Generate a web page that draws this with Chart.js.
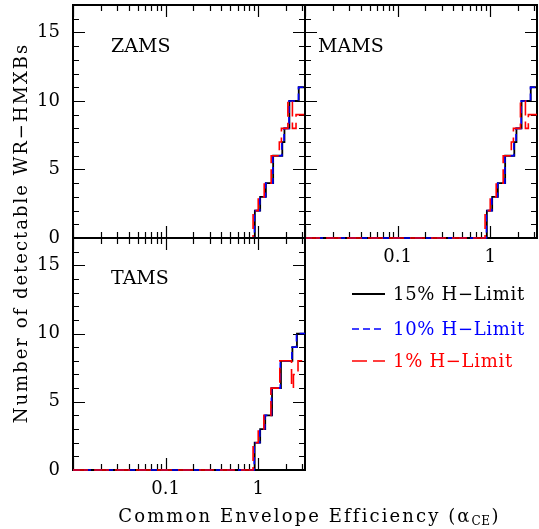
<!DOCTYPE html>
<html>
<head>
<meta charset="utf-8">
<script src="https://cdn.jsdelivr.net/npm/chart.js@4.4.0/dist/chart.umd.min.js"></script>
<style>
html, body { margin: 0; padding: 0; background: #fff; }
#wrap { position: relative; width: 539px; height: 529px; }
#wrap canvas { position: absolute; left: 0; top: 0; }
</style>
</head>
<body>
<div id="wrap">
  <canvas id="zams" width="539" height="529"></canvas>
  <canvas id="mams" width="539" height="529"></canvas>
  <canvas id="tams" width="539" height="529"></canvas>
</div>
<script>
// alpha_CE where each count starts; the count holds until the next alpha
var zamsAlpha15 = [0.01, 0.92, 1.05, 1.21, 1.45, 1.82, 1.92, 2.17, 2.74, 3.2];
var zamsCount15 = [0, 2, 3, 4, 6, 7, 8, 10, 11, 11];
var zamsAlpha10 = [0.01, 0.91, 1.04, 1.20, 1.44, 1.80, 1.90, 2.15, 2.72, 3.2];
var zamsCount10 = [0, 2, 3, 4, 6, 7, 8, 10, 11, 11];
var zamsAlpha1 = [0.01, 0.88, 1.00, 1.16, 1.38, 1.69, 1.78, 2.09, 2.34, 2.56, 3.2];
var zamsCount1 = [0, 2, 3, 4, 6, 7, 8, 10, 8, 9, 9];

var mamsAlpha15 = [0.01, 0.92, 1.05, 1.21, 1.45, 1.82, 1.92, 2.18, 2.74, 3.2];
var mamsCount15 = [0, 2, 3, 4, 6, 7, 8, 10, 11, 11];
var mamsAlpha10 = [0.01, 0.91, 1.04, 1.20, 1.44, 1.80, 1.90, 2.16, 2.72, 3.2];
var mamsCount10 = [0, 2, 3, 4, 6, 7, 8, 10, 11, 11];
var mamsAlpha1 = [0.01, 0.88, 1.00, 1.16, 1.38, 1.69, 1.78, 2.12, 2.40, 2.58, 3.2];
var mamsCount1 = [0, 2, 3, 4, 6, 7, 8, 10, 8, 9, 9];

var tamsAlpha15 = [0.01, 0.916, 1.05, 1.19, 1.41, 1.76, 2.34, 2.62, 3.2];
var tamsCount15 = [0, 2, 3, 4, 6, 8, 9, 10, 10];
var tamsAlpha10 = [0.01, 0.905, 1.04, 1.18, 1.39, 1.73, 2.31, 2.59, 3.2];
var tamsCount10 = [0, 2, 3, 4, 6, 8, 9, 10, 10];
var tamsAlpha1 = [0.01, 0.88, 1.00, 1.15, 1.37, 1.71, 2.29, 2.40, 2.69, 3.2];
var tamsCount1 = [0, 2, 3, 4, 6, 8, 6, 7, 8, 8];

var seriesLabels = ['15% H\u2212Limit', '10% H\u2212Limit', '1% H\u2212Limit'];
var xTickLabels = [0.1, 1];
var yTickLabels = [0, 5, 10, 15];
var xMajorTicks = [0.01, 0.1, 1];
var xTicks = [0.01, 0.02, 0.03, 0.04, 0.05, 0.06, 0.07, 0.08, 0.09,
              0.1, 0.2, 0.3, 0.4, 0.5, 0.6, 0.7, 0.8, 0.9, 1, 2, 3];
var yMajorTicks = [0, 5, 10, 15];
var yTicks = [0, 1, 2, 3, 4, 5, 6, 7, 8, 9, 10, 11, 12, 13, 14, 15, 16, 17];

var FONT = 'DejaVu Serif';
var YAXIS_W = 50, XAXIS_H = 40;

function points(xs, ys) {
  return xs.map(function(x, i) { return { x: x, y: ys[i] }; });
}

function makeSets(a15, c15, a10, c10, a1, c1) {
  return [
    { label: seriesLabels[0], data: points(a15, c15), borderColor: '#000000', borderWidth: 1.8, order: 3 },
    { label: seriesLabels[1], data: points(a10, c10), borderColor: '#0000ff', borderWidth: 1.6, borderDash: [7, 4], order: 2 },
    { label: seriesLabels[2], data: points(a1, c1), borderColor: '#ff0000', borderWidth: 1.6, borderDash: [15, 6], order: 1 }
  ];
}

function noPad(s) {
  s.paddingTop = 0; s.paddingBottom = 0; s.paddingLeft = 0; s.paddingRight = 0;
}

// box frame with inward ticks on all four sides
var framePlugin = {
  id: 'frame',
  beforeDatasetsDraw: function(chart) {
    var ctx = chart.ctx, a = chart.chartArea, xs = chart.scales.x, ys = chart.scales.y;
    ctx.save();
    ctx.strokeStyle = '#000';
    ctx.lineWidth = 1.2;
    ctx.beginPath();
    xTicks.forEach(function(v) {
      var len = xMajorTicks.indexOf(v) >= 0 ? 12 : 6;
      var px = Math.round(xs.getPixelForValue(v)) + 0.5;
      ctx.moveTo(px, a.bottom); ctx.lineTo(px, a.bottom - len);
      ctx.moveTo(px, a.top); ctx.lineTo(px, a.top + len);
    });
    yTicks.forEach(function(v) {
      var len = yMajorTicks.indexOf(v) >= 0 ? 12 : 6;
      var py = Math.round(ys.getPixelForValue(v)) + 0.5;
      ctx.moveTo(a.left, py); ctx.lineTo(a.left + len, py);
      ctx.moveTo(a.right, py); ctx.lineTo(a.right - len, py);
    });
    ctx.stroke();
    ctx.lineWidth = 2;
    ctx.strokeRect(a.left, a.top, a.right - a.left, a.bottom - a.top);
    ctx.restore();
  },
  afterDraw: function(chart) {
    var o = chart.options.plugins.frame;
    var ctx = chart.ctx, a = chart.chartArea;
    ctx.save();
    ctx.fillStyle = '#000';
    ctx.font = '19px "' + FONT + '"';
    ctx.textBaseline = 'middle';
    ctx.textAlign = 'left';
    ctx.fillText(o.name, a.left + o.dx, a.top + o.dy);
    ctx.restore();
  }
};

// axis titles and legend, drawn once on the last panel
var pageTextPlugin = {
  id: 'pageText',
  afterDraw: function(chart) {
    var ctx = chart.ctx;
    ctx.save();
    ctx.fillStyle = '#000';
    ctx.textBaseline = 'middle';
    ctx.font = '18px "' + FONT + '"';
    ctx.letterSpacing = '2px';

    // y title
    ctx.save();
    ctx.translate(22, 233);
    ctx.rotate(-Math.PI / 2);
    ctx.textAlign = 'center';
    ctx.fillText('Number of detectable WR\u2212HMXBs', 0, 0);
    ctx.restore();

    // x title with subscript
    var main = 'Common Envelope Efficiency (\u03b1';
    var big = '18px "' + FONT + '"', small = '12px "' + FONT + '"';
    ctx.textAlign = 'left';
    ctx.letterSpacing = '2.1px';
    var w1 = ctx.measureText(main).width;
    ctx.font = small;
    ctx.letterSpacing = '0.5px';
    var w2 = ctx.measureText('CE').width;
    ctx.font = big;
    ctx.letterSpacing = '2.1px';
    var w3 = ctx.measureText(')').width;
    var x0 = 309 - (w1 + w2 + w3) / 2, yT = 517;
    ctx.fillText(main, x0, yT);
    ctx.font = small;
    ctx.letterSpacing = '0.5px';
    ctx.fillText('CE', x0 + w1, yT + 5);
    ctx.font = big;
    ctx.letterSpacing = '2.1px';
    ctx.fillText(')', x0 + w1 + w2 + 1, yT);

    // legend
    var rows = [294, 329, 361];
    ctx.font = '18px "' + FONT + '"';
    ctx.letterSpacing = '0.7px';
    chart.data.datasets.forEach(function(ds, i) {
      ctx.save();
      ctx.strokeStyle = ds.borderColor;
      ctx.lineWidth = ds.borderWidth;
      ctx.setLineDash(ds.borderDash || []);
      ctx.beginPath();
      ctx.moveTo(352, rows[i]);
      ctx.lineTo(385, rows[i]);
      ctx.stroke();
      ctx.restore();
      ctx.fillStyle = ds.borderColor;
      ctx.fillText(ds.label, 393, rows[i] + 1);
    });
    ctx.restore();
  }
};

function makePanel(id, box, datasets, name, dx, dy, showX, showY, extraPlugins) {
  return new Chart(document.getElementById(id), {
    type: 'line',
    data: { datasets: datasets },
    plugins: [framePlugin].concat(extraPlugins || []),
    options: {
      responsive: false,
      animation: false,
      devicePixelRatio: 1,
      layout: {
        padding: {
          left: box.l - YAXIS_W,
          right: 539 - box.r,
          top: box.t,
          bottom: 529 - box.b - XAXIS_H
        }
      },
      elements: {
        line: { stepped: true, tension: 0, fill: false },
        point: { radius: 0 }
      },
      datasets: { line: { clip: false } },
      scales: {
        x: {
          type: 'logarithmic',
          min: 0.01,
          max: 3.2,
          grid: { display: false, drawTicks: false },
          border: { display: false },
          afterBuildTicks: function(s) { s.ticks = xTickLabels.map(function(v) { return { value: v }; }); },
          afterFit: function(s) { s.height = XAXIS_H; noPad(s); },
          ticks: {
            padding: 9,
            autoSkip: false,
            maxRotation: 0,
            color: showX ? '#000' : 'rgba(0,0,0,0)',
            font: { family: FONT, size: 18 },
            callback: function(v) { return String(v); }
          }
        },
        y: {
          type: 'linear',
          min: 0,
          max: 17,
          grid: { display: false, drawTicks: false },
          border: { display: false },
          afterBuildTicks: function(s) { s.ticks = yTickLabels.map(function(v) { return { value: v }; }); },
          afterFit: function(s) { s.width = YAXIS_W; noPad(s); },
          ticks: {
            padding: 13,
            color: showY ? '#000' : 'rgba(0,0,0,0)',
            font: { family: FONT, size: 18 },
            callback: function(v) { return String(v); }
          }
        }
      },
      plugins: {
        legend: { display: false },
        title: { display: false },
        tooltip: { enabled: false },
        frame: { name: name, dx: dx, dy: dy }
      }
    }
  });
}

makePanel('zams', { l: 73, r: 305, t: 5, b: 238 },
  makeSets(zamsAlpha15, zamsCount15, zamsAlpha10, zamsCount10, zamsAlpha1, zamsCount1),
  'ZAMS', 38, 42, false, true);
makePanel('mams', { l: 305, r: 537, t: 5, b: 238 },
  makeSets(mamsAlpha15, mamsCount15, mamsAlpha10, mamsCount10, mamsAlpha1, mamsCount1),
  'MAMS', 13, 42, true, false);
makePanel('tams', { l: 73, r: 305, t: 238, b: 470 },
  makeSets(tamsAlpha15, tamsCount15, tamsAlpha10, tamsCount10, tamsAlpha1, tamsCount1),
  'TAMS', 38, 41, true, true, [pageTextPlugin]);
</script>
</body>
</html>
